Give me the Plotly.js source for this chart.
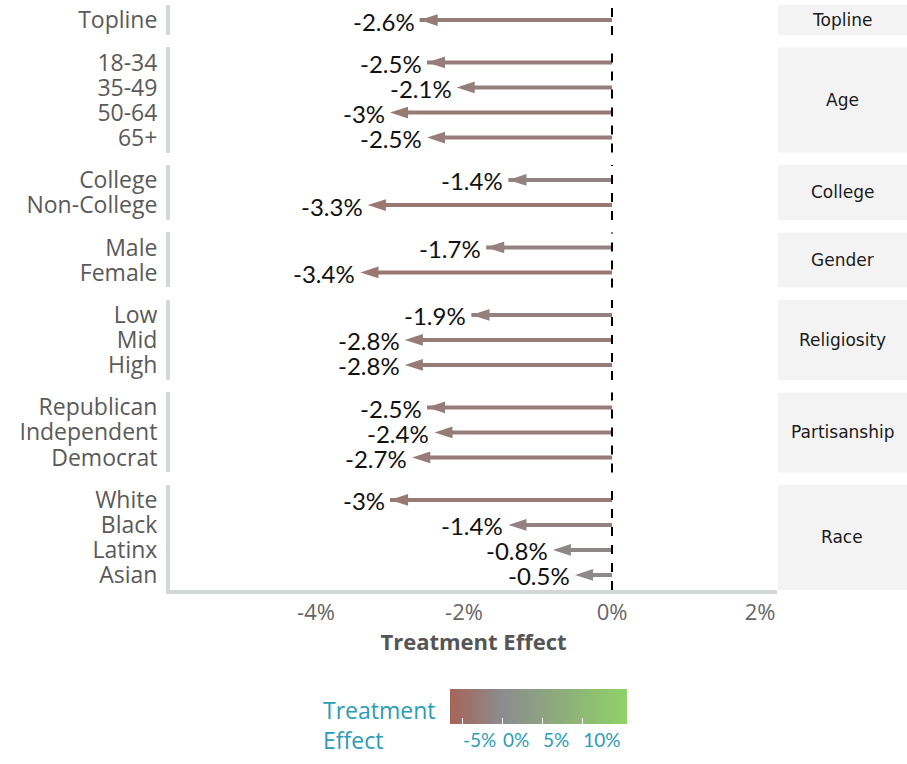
<!DOCTYPE html>
<html><head><meta charset="utf-8">
<script src="https://cdn.plot.ly/plotly-3.0.1.min.js"></script>
<style>html,body{margin:0;padding:0;background:#fff}</style>
</head><body><div id="chart" style="width:907px;height:764px"></div>
<script>
// ---- data ----
const panelNames = ['Topline','Age','College','Gender','Religiosity','Partisanship','Race'];
const toplineLabels = ['Topline'];
const toplineValues = [-2.6];
const ageLabels = ['18-34','35-49','50-64','65+'];
const ageValues = [-2.5,-2.1,-3.0,-2.5];
const collegeLabels = ['College','Non-College'];
const collegeValues = [-1.4,-3.3];
const genderLabels = ['Male','Female'];
const genderValues = [-1.7,-3.4];
const religiosityLabels = ['Low','Mid','High'];
const religiosityValues = [-1.9,-2.8,-2.8];
const partisanshipLabels = ['Republican','Independent','Democrat'];
const partisanshipValues = [-2.5,-2.4,-2.7];
const raceLabels = ['White','Black','Latinx','Asian'];
const raceValues = [-3.0,-1.4,-0.8,-0.5];
const xTickVals = [-4,-2,0,2];
const xTickText = ['-4%','-2%','0%','2%'];
const cbTickVals = [-5,0,5,10];
const cbTickText = ['-5%','0%','5%','10%'];

const panelLabels = [toplineLabels, ageLabels, collegeLabels, genderLabels, religiosityLabels, partisanshipLabels, raceLabels];
const panelValues = [toplineValues, ageValues, collegeValues, genderValues, religiosityValues, partisanshipValues, raceValues];

// ---- style ----
const W = 907, H = 764;
const cmin = -6.5, cmax = 15.6;
const cLow = [166,100,88], cMid = [140,140,142], cHigh = [144,210,104];
const midPos = (0 - cmin) / (cmax - cmin);
const toHex = c => '#' + c.map(v => Math.round(v).toString(16).padStart(2,'0')).join('');
const colorscale = [[0, toHex(cLow)], [midPos, toHex(cMid)], [1, toHex(cHigh)]];
function colorFor(v){
  const t = (v - cmin) / (cmax - cmin);
  let a, b, f;
  if (t <= midPos) { a = cLow; b = cMid; f = t / midPos; }
  else { a = cMid; b = cHigh; f = (t - midPos) / (1 - midPos); }
  return toHex(a.map((x,i) => x + (b[i]-x)*f));
}
const teal = '#2b9cb6';
const axisGrey = '#d3d7d7';

// panel geometry (pixels)
const topPx = 5, bottomPx = 590, gapPx = 12.4;
const units = panelLabels.map(l => l.length + 0.2);
const totalUnits = units.reduce((a,b)=>a+b,0);
const unitPx = (bottomPx - topPx - gapPx*(panelLabels.length-1)) / totalUnits;

const xLeft = 170, xRight = 777, zeroPx = 612, pxPerPct = 74;

const layout = {
  width: W, height: H,
  margin: {l:0, r:0, t:0, b:0, autoexpand: false},
  paper_bgcolor: '#fff', plot_bgcolor: '#fff',
  showlegend: false,
  shapes: [], annotations: [],
  xaxis: {
    domain: [xLeft/W, xRight/W],
    range: [(xLeft - zeroPx)/pxPerPct, (xRight - zeroPx)/pxPerPct],
    anchor: 'y' + panelLabels.length,
    showline: true, linecolor: axisGrey, linewidth: 4,
    showgrid: false, zeroline: false, ticks: '',
    tickvals: xTickVals, ticktext: xTickText,
    tickfont: {family: 'Open Sans', size: 22, color: '#666666'},
    title: {text: '<b>Treatment Effect</b>', font: {family: 'Open Sans', size: 22, color: '#555555'}, standoff: 6},
    fixedrange: true
  }
};

const traces = [];
let cursor = topPx;
panelLabels.forEach((labels, i) => {
  const n = labels.length;
  const hPx = units[i] * unitPx;
  const y0 = cursor, y1 = cursor + hPx;
  cursor = y1 + gapPx;
  const yName = 'y' + (i === 0 ? '' : (i+1));
  const yKey = 'yaxis' + (i === 0 ? '' : (i+1));
  layout[yKey] = {
    domain: [1 - y1/H, 1 - y0/H],
    anchor: 'x',
    type: 'category',
    categoryorder: 'array', categoryarray: labels,
    tickmode: 'array', tickvals: labels, ticktext: labels,
    range: [n - 0.4, -0.6],
    showline: true, linecolor: axisGrey, linewidth: 4,
    showgrid: false, zeroline: false, ticks: '',
    ticklabelstandoff: 4,
    tickfont: {family: 'Open Sans', size: 23, color: '#5a5a5a'},
    fixedrange: true
  };
  // strip
  layout.shapes.push({type:'rect', xref:'paper', yref: yName + ' domain',
    x0: 778/W, x1: 1, y0: 0, y1: 1, fillcolor: '#f3f3f3', line: {width: 0}, layer: 'below'});
  layout.annotations.push({xref:'paper', yref: yName + ' domain', x: 842/W, y: 0.5,
    text: panelNames[i], showarrow: false, xanchor: 'center', yanchor: 'middle',
    font: {family: 'DejaVu Sans', size: 17, color: '#1a1a1a'}});
  // zero line
  layout.shapes.push({type:'line', xref:'x', yref: yName + ' domain', x0: 0, x1: 0, y0: 0, y1: 1,
    line: {color: '#000', width: 2, dash: 'dash'}, layer: 'above'});

  const values = panelValues[i];
  labels.forEach((lab, j) => {
    const v = values[j];
    const tr = {
      type: 'scatter', mode: 'lines+markers',
      x: [0, v], y: [lab, lab],
      xaxis: 'x', yaxis: yName,
      line: {color: colorFor(v), width: 4},
      marker: {symbol: 'arrow', angleref: 'previous', size: 19,
        color: [v, v], colorscale: colorscale, cmin: cmin, cmax: cmax,
        line: {width: 0}, showscale: false},
      hoverinfo: 'skip'
    };
    if (i === 0 && j === 0) {
      tr.marker.showscale = true;
      tr.marker.colorbar = {
        orientation: 'h',
        x: 538.5/W, xanchor: 'center', xref: 'paper',
        y: 1 - 689/H, yanchor: 'top', yref: 'paper',
        len: 177, lenmode: 'pixels',
        thickness: 35, thicknessmode: 'pixels',
        xpad: 0, ypad: 0,
        outlinewidth: 0,
        ticks: 'inside', ticklen: 6, tickwidth: 1, tickcolor: '#ffffff',
        ticklabelposition: 'outside right',
        tickangle: 0,
        tickvals: cbTickVals, ticktext: cbTickText,
        tickfont: {family: 'Lato', size: 19, color: teal},
        title: {text: ''}
      };
    }
    traces.push(tr);
    layout.annotations.push({xref: 'x', yref: yName, x: v, y: lab,
      text: String(v) + '%', showarrow: false, xanchor: 'right', yanchor: 'middle',
      xshift: -3, yshift: -1,
      font: {family: 'Lato', size: 24, color: '#111111'}});
  });
});

// colorbar title
layout.annotations.push({xref:'paper', yref:'paper', x: 321/W, y: 1 - 725/H,
  xanchor: 'left', yanchor: 'middle', align: 'left', showarrow: false,
  text: 'Treatment<br>Effect', font: {family: 'Open Sans', size: 23, color: teal}});

Plotly.newPlot('chart', traces, layout, {staticPlot: true, displayModeBar: false});
</script>
</body></html>
